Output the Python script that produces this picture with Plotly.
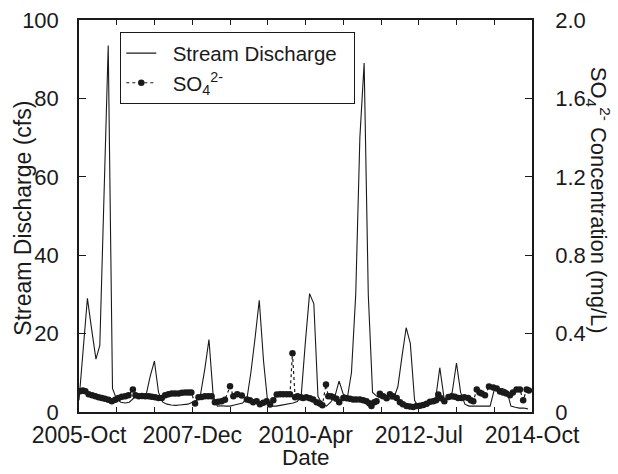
import pandas as pd
import plotly.graph_objects as go

# ---------------- data ----------------
start_date = "2005-10-01"
end_date = "2014-10-01"

# monthly stream discharge (cfs), Oct 2005 .. Sep 2014
discharge_cfs = [
    3, 16, 29, 21, 13.5, 17, 55, 93.5, 6, 3.2, 2.5, 2.3,
    2.5, 3.5, 4, 4.4, 4.5, 9, 13, 5, 2.5, 2, 1.8, 1.7,
    1.8, 2, 2, 2.5, 3, 4.5, 11, 18.5, 4, 1.5, 1.6, 1.5,
    1.5, 1.8, 2, 2.3, 3.5, 10, 19, 28.5, 13, 2.5, 1.5, 1.5,
    1.7, 1.9, 2, 2.3, 2.7, 4, 18, 30.2, 27.6, 4, 2, 1.5,
    2.5, 4, 7.9, 4.5, 4, 10, 30, 70, 89, 30, 5, 4,
    3.6, 3.5, 3.3, 3.4, 6.5, 14, 21.5, 17.5, 3, 1, 1.2, 1.5,
    2.5, 3.5, 11.3, 3.5, 3.5, 5, 12.5, 5, 2, 1.5, 1.5, 1.5,
    1.5, 1.5, 1.5, 5.8, 6, 6, 5.5, 1.5, 1.2, 1.0, 1.0, 0.8,
]
discharge_dates = pd.date_range(start_date, periods=len(discharge_cfs), freq="MS")

so4_dates = [
    "2005-10-10", "2005-10-29", "2005-11-16", "2005-12-10", "2006-01-04", "2006-01-28",
    "2006-02-20", "2006-03-15", "2006-04-07", "2006-05-02", "2006-05-27", "2006-06-21",
    "2006-07-15", "2006-08-08", "2006-09-02", "2006-09-25", "2006-10-27", "2006-11-15",
    "2006-12-08", "2007-01-01", "2007-01-25", "2007-02-19", "2007-03-13", "2007-04-06",
    "2007-05-01", "2007-05-25", "2007-06-18", "2007-07-12", "2007-08-06", "2007-08-30",
    "2007-09-24", "2007-10-18", "2007-11-12", "2007-12-05", "2007-12-25", "2008-01-21",
    "2008-02-15", "2008-03-08", "2008-04-02", "2008-04-26", "2008-05-20", "2008-06-13",
    "2008-07-07", "2008-08-01", "2008-08-25", "2008-10-01", "2008-10-25", "2008-11-22",
    "2008-12-25", "2009-01-31", "2009-02-22", "2009-03-18", "2009-04-12", "2009-05-06",
    "2009-05-30", "2009-06-24", "2009-07-18", "2009-08-11", "2009-09-05", "2009-09-29",
    "2009-10-22", "2009-11-16", "2009-12-10", "2009-12-28", "2010-01-16", "2010-02-02",
    "2010-02-25", "2010-03-15", "2010-04-08", "2010-05-03", "2010-05-27", "2010-06-21",
    "2010-07-14", "2010-08-02", "2010-08-28", "2010-09-14", "2010-10-03", "2010-10-21",
    "2010-11-12", "2010-12-02", "2011-01-01", "2011-01-26", "2011-02-18", "2011-03-13",
    "2011-04-05", "2011-05-01", "2011-05-25", "2011-06-18", "2011-07-08", "2011-07-24",
    "2011-08-14", "2011-08-30", "2011-09-23", "2011-10-17", "2011-11-11", "2011-12-05",
    "2011-12-27", "2012-01-23", "2012-02-16", "2012-03-08", "2012-04-04", "2012-04-28",
    "2012-05-22", "2012-06-16", "2012-07-10", "2012-08-03", "2012-08-28", "2012-09-21",
    "2012-10-15", "2012-11-04", "2012-11-20", "2012-12-10", "2013-01-03", "2013-02-02",
    "2013-02-26", "2013-03-20", "2013-04-13", "2013-05-08", "2013-05-28", "2013-06-25",
    "2013-07-15", "2013-08-01", "2013-08-26", "2013-09-15", "2013-10-01", "2013-10-25",
    "2013-11-23", "2013-12-24", "2014-01-18", "2014-02-11", "2014-03-06", "2014-03-29",
    "2014-04-24", "2014-05-15", "2014-06-11", "2014-07-05", "2014-07-29", "2014-08-23",
    "2014-09-09",
]
so4_mgl = [
    0.106, 0.110, 0.106, 0.090, 0.085, 0.080,
    0.075, 0.072, 0.068, 0.062, 0.055, 0.062,
    0.072, 0.078, 0.080, 0.085, 0.115, 0.085,
    0.080, 0.082, 0.080, 0.080, 0.078, 0.075,
    0.072, 0.072, 0.085, 0.090, 0.094, 0.094,
    0.095, 0.098, 0.100, 0.100, 0.100, 0.043,
    0.075, 0.077, 0.080, 0.080, 0.080, 0.050,
    0.052, 0.055, 0.062, 0.131, 0.080, 0.090,
    0.084, 0.064, 0.060, 0.050, 0.055, 0.040,
    0.047, 0.055, 0.038, 0.060, 0.089, 0.090,
    0.090, 0.090, 0.090, 0.300, 0.075, 0.080,
    0.075, 0.072, 0.075, 0.070, 0.064, 0.050,
    0.043, 0.035, 0.140, 0.080, 0.080, 0.075,
    0.068, 0.050, 0.072, 0.070, 0.068, 0.064,
    0.064, 0.064, 0.060, 0.055, 0.045, 0.030,
    0.050, 0.055, 0.093, 0.080, 0.070, 0.090,
    0.080, 0.072, 0.050, 0.040, 0.030, 0.028,
    0.026, 0.030, 0.032, 0.036, 0.042, 0.052,
    0.055, 0.060, 0.089, 0.070, 0.055, 0.076,
    0.080, 0.078, 0.072, 0.072, 0.075, 0.072,
    0.060, 0.055, 0.115, 0.100, 0.095, 0.085,
    0.130, 0.125, 0.120, 0.105, 0.100, 0.095,
    0.085, 0.100, 0.115, 0.115, 0.060, 0.115,
    0.110,
]

x_tick_labels = ["2005-Oct", "2007-Dec", "2010-Apr", "2012-Jul", "2014-Oct"]
left_ticks = [0, 20, 40, 60, 80, 100]
right_ticks = [0, 0.4, 0.8, 1.2, 1.6, 2.0]
right_tick_text = ["0", "0.4", "0.8", "1.2", "1.6", "2.0"]

# ---------------- figure ----------------
FONT = "Liberation Sans, Arial, Helvetica, sans-serif"
INK = "#1a1a1a"
W, H = 618, 474
ML, MR, MT, MB = 79, 86, 20, 61.5
PW, PH = W - ML - MR, H - MT - MB
NB = "\u00a0"


def px_x(px):
    return (px - ML) / PW


def px_y(py):
    return (H - MB - py) / PH


t0 = pd.Timestamp(start_date)
t1 = pd.Timestamp(end_date)
n_int = 12
tickvals = [t0 + (t1 - t0) * k / n_int for k in range(n_int + 1)]
ticktext = [x_tick_labels[k // 3] if k % 3 == 0 else " " for k in range(n_int + 1)]

fig = go.Figure()
fig.add_trace(go.Scatter(
    x=discharge_dates, y=discharge_cfs, mode="lines",
    line=dict(color=INK, width=1.1),
    name=NB * 2 + "Stream Discharge" + NB * 2,
))
fig.add_trace(go.Scatter(
    x=pd.to_datetime(so4_dates), y=so4_mgl, yaxis="y2", mode="lines+markers",
    line=dict(color=INK, width=1.2, dash="dot"),
    marker=dict(size=6.5, color=INK),
    name=NB * 2 + "SO<sub>4</sub><sup>2-</sup>",
))

fig.update_layout(
    width=W, height=H,
    margin=dict(l=ML, r=MR, t=MT, b=MB, autoexpand=False),
    paper_bgcolor="white", plot_bgcolor="white",
    font=dict(family=FONT, size=23, color=INK),
    showlegend=True,
    legend=dict(
        x=px_x(120), y=px_y(32), xanchor="left", yanchor="top",
        bordercolor=INK, borderwidth=1.3, bgcolor="white",
        font=dict(size=20.5, family=FONT, color=INK),
        tracegroupgap=0,
    ),
    xaxis=dict(
        type="date", range=[t0, t1], automargin=False, tickangle=0,
        tickmode="array", tickvals=tickvals, ticktext=ticktext,
        ticks="inside", ticklen=5, tickwidth=1.3, tickcolor=INK,
        showline=True, linewidth=1.5, linecolor=INK, mirror="ticks",
        showgrid=False, zeroline=False,
        tickfont=dict(size=23), ticklabelstandoff=2,
    ),
    yaxis=dict(
        range=[0, 100], tickmode="array", tickvals=left_ticks, automargin=False,
        ticks="inside", ticklen=7, tickwidth=1.3, tickcolor=INK,
        showline=True, linewidth=1.5, linecolor=INK,
        showgrid=False, zeroline=False,
        tickfont=dict(size=22), ticklabelstandoff=14,
    ),
    yaxis2=dict(
        overlaying="y", side="right", automargin=False,
        range=[0, 2.0], tickmode="array", tickvals=right_ticks, ticktext=right_tick_text,
        ticks="inside", ticklen=7, tickwidth=1.3, tickcolor=INK,
        showline=True, linewidth=1.5, linecolor=INK,
        showgrid=False, zeroline=False,
        tickfont=dict(size=22), ticklabelstandoff=17,
    ),
    annotations=[
        dict(
            text="Date", x=px_x(306), y=px_y(458), xref="paper", yref="paper",
            xanchor="center", yanchor="middle", showarrow=False,
            font=dict(size=22.5, family=FONT, color=INK),
        ),
        dict(
            text="Stream Discharge (cfs)", x=px_x(23), y=px_y(219),
            xref="paper", yref="paper", xanchor="center", yanchor="middle",
            textangle=-90, showarrow=False,
            font=dict(size=23, family=FONT, color=INK),
        ),
        dict(
            text="SO<sub>4</sub><sup>2-</sup> Concentration (mg/L)",
            x=px_x(598), y=px_y(200), xref="paper", yref="paper",
            xanchor="center", yanchor="middle",
            textangle=90, showarrow=False,
            font=dict(size=22, family=FONT, color=INK),
        ),
    ],
)

fig.write_html("out.html")
